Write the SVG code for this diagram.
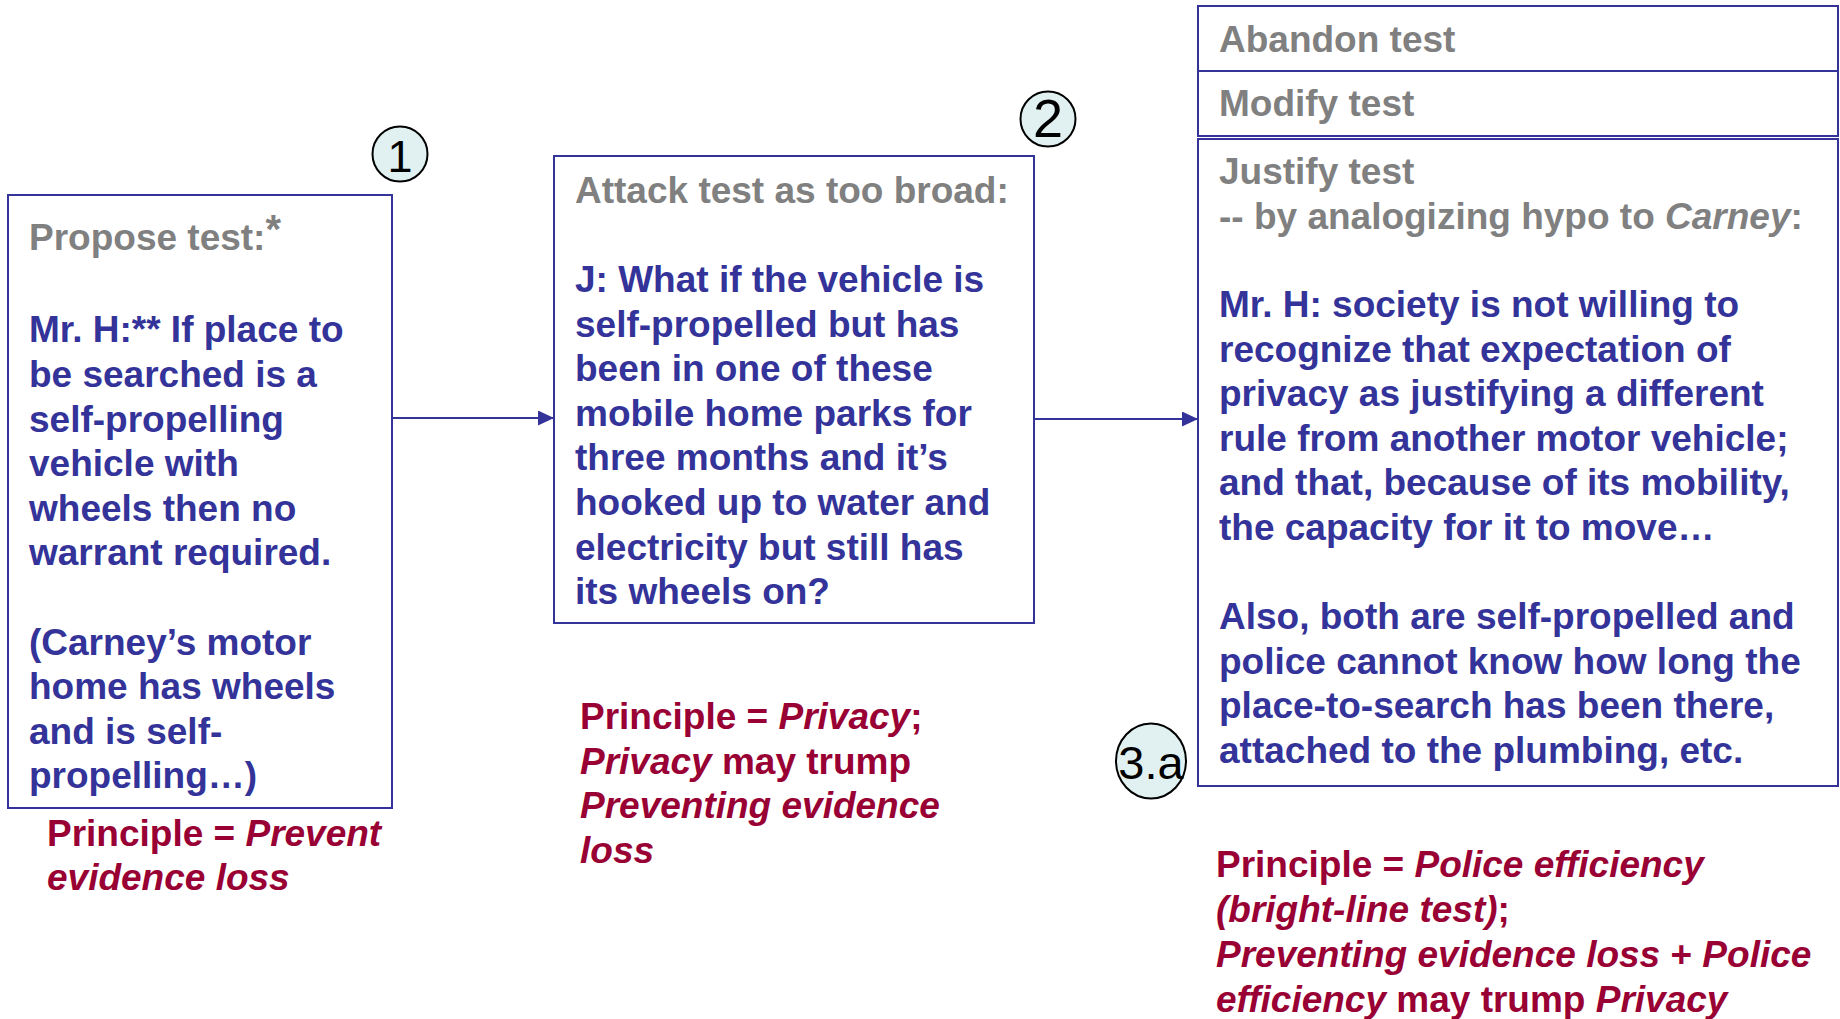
<svg xmlns="http://www.w3.org/2000/svg" width="1840" height="1019" viewBox="0 0 1840 1019">
<style>
.box{fill:#ffffff;stroke:#333399;stroke-width:2}
.badge{fill:#e1f0f0;stroke:#000000;stroke-width:2}
.t{font-family:"Liberation Sans",Arial,sans-serif;font-size:37px;font-weight:bold}
.g{fill:#808080}
.b{fill:#333399}
.r{fill:#990033}
.i{font-style:italic}
.n{font-family:"Liberation Sans",Arial,sans-serif;font-weight:normal;fill:#000000;text-anchor:middle}
.conn{stroke:#333399;stroke-width:2;fill:none}
</style>
<defs>
<marker id="ah" markerUnits="userSpaceOnUse" markerWidth="16" markerHeight="15" refX="16" refY="7.5" orient="auto">
<path d="M0,0 L16,7.5 L0,15 z" fill="#333399"/>
</marker>
</defs>
<rect width="1840" height="1019" fill="#ffffff"/>

<g id="connectors">
<line class="conn" x1="392" y1="418" x2="554" y2="418" marker-end="url(#ah)"/>
<line class="conn" x1="1034" y1="419" x2="1198" y2="419" marker-end="url(#ah)"/>
</g>

<g id="node-propose">
<rect class="box" x="8" y="195" width="384" height="613"/>
<text class="t g" x="29" y="250">Propose test:<tspan font-size="40" dy="-7">*</tspan></text>
<text class="t b" x="29">
<tspan x="29" y="342">Mr. H:** If place to</tspan>
<tspan x="29" y="387">be searched is a</tspan>
<tspan x="29" y="432">self-propelling</tspan>
<tspan x="29" y="476">vehicle with</tspan>
<tspan x="29" y="521">wheels then no</tspan>
<tspan x="29" y="565">warrant required.</tspan>
<tspan x="29" y="655">(Carney’s motor</tspan>
<tspan x="29" y="699">home has wheels</tspan>
<tspan x="29" y="744">and is self-</tspan>
<tspan x="29" y="788">propelling…)</tspan>
</text>
</g>

<g id="principle-1">
<text class="t r" x="47" y="846">Principle = <tspan class="i">Prevent</tspan></text>
<text class="t r i" x="47" y="890">evidence loss</text>
</g>

<g id="badge-1">
<circle class="badge" cx="400" cy="154" r="27.5"/>
<text class="n" x="400" y="172" font-size="45">1</text>
</g>

<g id="node-attack">
<rect class="box" x="554" y="156" width="480" height="467"/>
<text class="t g" x="575" y="203">Attack test as too broad:</text>
<text class="t b">
<tspan x="575" y="292">J: What if the vehicle is</tspan>
<tspan x="575" y="336.6">self-propelled but has</tspan>
<tspan x="575" y="381.2">been in one of these</tspan>
<tspan x="575" y="425.8">mobile home parks for</tspan>
<tspan x="575" y="470.4">three months and it’s</tspan>
<tspan x="575" y="515">hooked up to water and</tspan>
<tspan x="575" y="559.6">electricity but still has</tspan>
<tspan x="575" y="604.2">its wheels on?</tspan>
</text>
</g>

<g id="principle-2">
<text class="t r" x="580" y="729">Principle = <tspan class="i">Privacy</tspan>;</text>
<text class="t r" x="580" y="773.6"><tspan class="i">Privacy</tspan> may trump</text>
<text class="t r i" x="580" y="818.2">Preventing evidence</text>
<text class="t r i" x="580" y="862.8">loss</text>
</g>

<g id="badge-2">
<circle class="badge" cx="1048" cy="119" r="27.5"/>
<text class="n" x="1048" y="137" font-size="54">2</text>
</g>

<g id="node-abandon">
<rect class="box" x="1198" y="6" width="640" height="65"/>
<text class="t g" x="1219" y="52">Abandon test</text>
</g>

<g id="node-modify">
<rect class="box" x="1198" y="71" width="640" height="65"/>
<text class="t g" x="1219" y="116">Modify test</text>
</g>

<g id="node-justify">
<rect class="box" x="1198" y="139" width="640" height="647"/>
<text class="t g" x="1219" y="184">Justify test</text>
<text class="t g" x="1219" y="229">-- by analogizing hypo to <tspan class="i">Carney</tspan>:</text>
<text class="t b">
<tspan x="1219" y="317">Mr. H: society is not willing to</tspan>
<tspan x="1219" y="361.6">recognize that expectation of</tspan>
<tspan x="1219" y="406.2">privacy as justifying a different</tspan>
<tspan x="1219" y="450.8">rule from another motor vehicle;</tspan>
<tspan x="1219" y="495.4">and that, because of its mobility,</tspan>
<tspan x="1219" y="540">the capacity for it to move…</tspan>
<tspan x="1219" y="629.2">Also, both are self-propelled and</tspan>
<tspan x="1219" y="673.8">police cannot know how long the</tspan>
<tspan x="1219" y="718.4">place-to-search has been there,</tspan>
<tspan x="1219" y="763">attached to the plumbing, etc.</tspan>
</text>
</g>

<g id="badge-3a">
<ellipse class="badge" cx="1151" cy="761" rx="35" ry="37.5"/>
<text class="n" x="1151" y="779" font-size="47">3.a</text>
</g>

<g id="principle-3">
<text class="t r" x="1216" y="877">Principle = <tspan class="i">Police efficiency</tspan></text>
<text class="t r" x="1216" y="922"><tspan class="i">(bright-line test)</tspan>;</text>
<text class="t r" x="1216" y="967"><tspan class="i">Preventing evidence loss</tspan> + <tspan class="i">Police</tspan></text>
<text class="t r" x="1216" y="1012"><tspan class="i">efficiency</tspan> may trump <tspan class="i">Privacy</tspan></text>
</g>
</svg>
